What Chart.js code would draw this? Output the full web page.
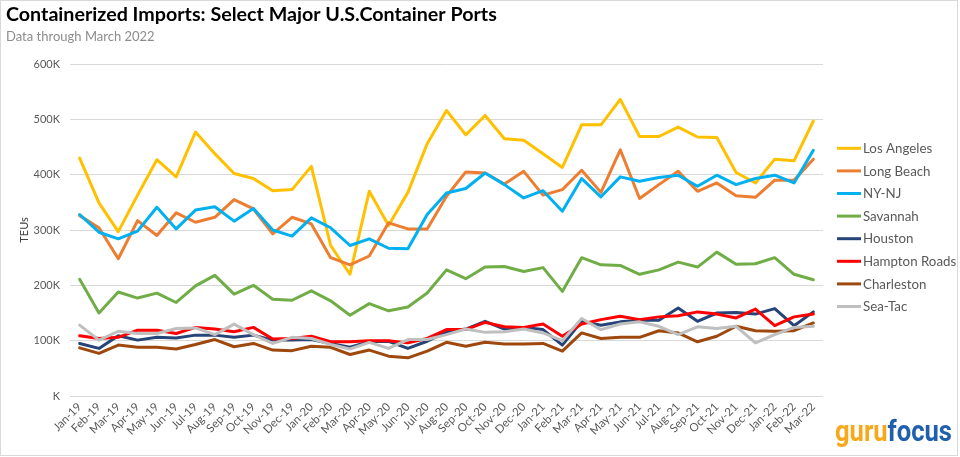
<!DOCTYPE html>
<html>
<head>
<meta charset="utf-8">
<script src="https://cdn.jsdelivr.net/npm/chart.js@4.4.1/dist/chart.umd.min.js"></script>
<style>
  html, body { margin: 0; padding: 0; background: #ffffff; }
  #wrap { width: 960px; height: 457px; position: relative; }
</style>
</head>
<body>
<div id="wrap"><canvas id="c" width="960" height="457"></canvas></div>
<script>
const months = ["Jan-19","Feb-19","Mar-19","Apr-19","May-19","Jun-19","Jul-19","Aug-19","Sep-19","Oct-19","Nov-19","Dec-19",
  "Jan-20","Feb-20","Mar-20","Apr-20","May-20","Jun-20","Jul-20","Aug-20","Sep-20","Oct-20","Nov-20","Dec-20",
  "Jan-21","Feb-21","Mar-21","Apr-21","May-21","Jun-21","Jul-21","Aug-21","Sep-21","Oct-21","Nov-21","Dec-21",
  "Jan-22","Feb-22","Mar-22"];

// values in thousands of TEUs
const losAngeles = [430,349,297,363,427,396,477,438,402,393,371,373, 415,272,220,370,308,368,456,516,472,507,465,462, 438,413,490,490,536,469,469,486,468,467,404,385, 428,425,497];
const longBeach  = [326,304,248,317,290,331,314,323,355,338,293,323, 311,250,237,253,313,302,302,361,405,403,383,406, 363,373,408,368,445,357,382,406,370,385,362,359, 390,390,428];
const nyNj       = [328,296,284,298,341,302,336,342,316,339,300,289, 322,304,272,284,267,266,328,367,375,403,382,358, 371,334,393,360,396,388,395,399,379,399,382,393, 399,385,444];
const savannah   = [211,150,188,177,186,169,199,218,184,200,175,173, 190,172,146,167,154,161,186,228,212,233,234,225, 232,189,250,237,236,220,228,242,233,260,238,239, 250,220,210];
const houston    = [95,86,109,101,106,105,110,110,106,110,101,101, 102,95,88,98,99,86,99,116,121,135,121,124, 120,92,135,128,134,137,137,159,135,150,151,148, 158,127,152];
const hamptonRoads = [109,104,106,119,119,113,124,121,116,124,103,104, 108,98,98,100,100,96,104,120,120,133,125,124, 130,108,130,138,144,138,143,145,152,148,141,157, 127,143,148];
const charleston = [87,77,92,88,88,85,93,102,89,95,83,82, 90,88,75,83,72,69,81,97,90,97,94,94, 95,81,114,104,106,106,118,114,98,108,126,118, 117,118,132];
const seaTac     = [128,101,117,113,113,122,123,111,130,111,95,106, 104,93,85,97,86,102,102,111,121,115,116,121, 114,100,140,120,130,134,126,111,125,122,126,96, 111,124,126];

const seriesNames = ["Los Angeles","Long Beach","NY-NJ","Savannah","Houston","Hampton Roads","Charleston","Sea-Tac"];
const seriesValues = [losAngeles,longBeach,nyNj,savannah,houston,hamptonRoads,charleston,seaTac];
const seriesColors = ["#FFC000","#ED7D31","#00B0F0","#70AD47","#264478","#FF0000","#9E480E","#BFBFBF"];
const yTicks = [0,100,200,300,400,500,600];

const titleText = "Containerized Imports: Select Major U.S.Container Ports";
const subtitleText = "Data through March 2022";
const yAxisTitle = "TEUs";

const FONT = "Lato, 'Open Sans', 'Liberation Sans', sans-serif";

const datasets = seriesNames.map((n, i) => ({
  label: n,
  data: seriesValues[i],
  borderColor: seriesColors[i],
  backgroundColor: seriesColors[i],
  borderWidth: 3,
  pointRadius: 0,
  pointHoverRadius: 0,
  tension: 0,
  fill: false,
  borderJoinStyle: 'round',
  borderCapStyle: 'round',
  order: seriesNames.length - i
}));

const decor = {
  id: 'decor',
  afterDraw(chart) {
    const ctx = chart.ctx;
    ctx.save();
    // frame
    ctx.strokeStyle = '#D9D9D9';
    ctx.lineWidth = 1;
    ctx.strokeRect(0.5, 0.5, 957, 455);
    // title
    ctx.fillStyle = '#000000';
    ctx.textBaseline = 'alphabetic';
    ctx.textAlign = 'left';
    let fs = 20;
    ctx.font = 'bold ' + fs + 'px ' + FONT;
    let w = ctx.measureText(titleText).width;
    const target = 491;
    if (Math.abs(w - target) > 4) { fs = fs * target / w; ctx.font = 'bold ' + fs.toFixed(2) + 'px ' + FONT; }
    ctx.fillText(titleText, 6, 21);
    // subtitle
    ctx.fillStyle = '#8C8C8C';
    ctx.font = '13px ' + FONT;
    ctx.fillText(subtitleText, 6, 41);
    // legend
    ctx.font = '13.3px ' + FONT;
    ctx.textBaseline = 'middle';
    chart.data.datasets.forEach((ds, i) => {
      const y = 148.3 + i * 22.6;
      ctx.strokeStyle = ds.borderColor;
      ctx.lineWidth = 3;
      ctx.lineCap = 'butt';
      ctx.beginPath();
      ctx.moveTo(837, y);
      ctx.lineTo(861, y);
      ctx.stroke();
      ctx.fillStyle = '#595959';
      ctx.fillText(ds.label, 863, y + 0.5);
    });
    // gurufocus logo
    ctx.textBaseline = 'alphabetic';
    const lf = "bold 30px 'Liberation Sans Narrow', 'Roboto', " + FONT;
    ctx.font = lf;
    const w1 = ctx.measureText('guru').width;
    const w2 = ctx.measureText('focus').width;
    const totalTarget = 117;
    const sx = totalTarget / (w1 + w2);
    ctx.translate(835, 441);
    ctx.scale(sx, 1);
    ctx.fillStyle = '#F7A81B';
    ctx.fillText('guru', 0, 0);
    ctx.fillStyle = '#1F5FAD';
    ctx.fillText('focus', w1, 0);
    ctx.restore();
  }
};

new Chart(document.getElementById('c'), {
  type: 'line',
  data: { labels: months, datasets },
  options: {
    responsive: false,
    animation: false,
    devicePixelRatio: 1,
    layout: { padding: { left: 0, top: 64, right: 137, bottom: 0 } },
    plugins: { legend: { display: false }, title: { display: false }, tooltip: { enabled: false } },
    scales: {
      x: {
        type: 'category',
        offset: true,
        grid: { display: false, drawTicks: false },
        border: { display: false },
        ticks: {
          autoSkip: false, maxRotation: 45, minRotation: 45, padding: 4,
          color: '#595959', font: { family: FONT, size: 11.5 }
        },
        afterFit(scale) { scale.height = 61; }
      },
      y: {
        min: 0, max: 600,
        afterBuildTicks(scale) { scale.ticks = yTicks.map(v => ({ value: v })); },
        grid: { color: '#D9D9D9', lineWidth: 1, drawTicks: false },
        border: { display: false },
        ticks: {
          padding: 10, color: '#595959', font: { family: FONT, size: 11 },
          callback: v => (v === 0 ? 'K' : v + 'K')
        },
        title: { display: true, text: yAxisTitle, color: '#404040', font: { family: FONT, size: 11 }, padding: { top: 18, bottom: 0 } },
        afterFit(scale) { scale.width = 70; }
      }
    }
  },
  plugins: [decor]
});
</script>
</body>
</html>
